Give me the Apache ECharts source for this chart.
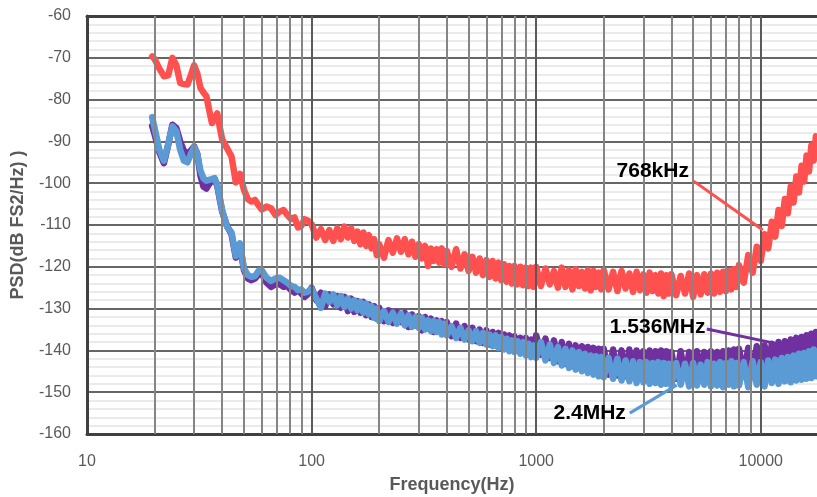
<!DOCTYPE html>
<html>
<head>
<meta charset="utf-8">
<script src="https://cdn.jsdelivr.net/npm/echarts@6/dist/echarts.min.js"></script>
<style>
  html, body { margin: 0; padding: 0; background: #fff; }
  #chart { width: 817px; height: 497px; }
</style>
</head>
<body>
<div id="chart"></div>
<script>
// frequency points (Hz), shared by the three traces
const freqHz = [
  19.5, 20, 21, 22, 23, 24, 25, 26, 27, 28, 29, 30, 31, 32, 33, 34, 35, 36, 37, 38, 39, 40,
  42, 44, 46, 48, 50, 52, 54, 56, 58, 60, 63, 66, 69, 72, 75, 78, 81, 84, 87, 90, 93, 96,
  100, 105, 110, 115, 120, 125, 130, 135, 140, 145, 150, 155, 160, 165, 170, 175, 180, 185, 190, 195,
  200, 210, 220, 230, 240, 250, 260, 270, 280, 290, 300, 310, 320, 330, 340, 350, 360, 370, 380, 390,
  400, 420, 440, 460, 480, 500, 520, 540, 560, 580, 600, 620, 640, 660, 680, 700, 720, 740, 760, 780,
  800, 825, 850, 875, 900, 925, 950, 975,
  1000, 1050, 1100, 1150, 1200, 1250, 1300, 1350, 1400, 1450, 1500, 1550, 1600, 1650, 1700, 1750, 1800, 1850, 1900, 1950,
  2000, 2100, 2200, 2300, 2400, 2500, 2600, 2700, 2800, 2900, 3000, 3100, 3200, 3300, 3400, 3500, 3600, 3700, 3800, 3900,
  4000, 4200, 4400, 4600, 4800, 5000, 5200, 5400, 5600, 5800, 6000, 6200, 6400, 6600, 6800, 7000, 7200, 7400, 7600, 7800,
  8000, 8400, 8800, 9200, 9600, 10000, 10400, 10800, 11200, 11600, 12000, 12400, 12800, 13200, 13600, 14000, 14400, 14800, 15200, 15600,
  16000, 16400, 16800, 17200, 17600, 17800
];

// PSD, dB FS2/Hz
const psd768k = [
  -69.7, -70.3, -72.6, -74.4, -74.2, -70.0, -71.8, -76.0, -76.3, -76.4,
  -74.2, -71.8, -73.8, -77.2, -78.3, -79.2, -82.5, -85.6, -84.6, -83.3,
  -86.6, -89.6, -91.6, -93.6, -99.8, -97.8, -101.6, -103.8, -104.4, -104.0,
  -105.3, -106.3, -105.6, -106.0, -107.6, -106.8, -106.4, -107.6, -108.6, -108.2,
  -110.6, -110.2, -108.6, -108.9,
  -109.8, -113.0, -111.0, -113.6, -111.2, -113.8, -110.8, -113.4, -110.4, -113.0,
  -110.8, -113.8, -111.6, -114.6, -111.8, -115.0, -112.4, -115.6, -113.4, -117.2,
  -114.6, -117.8, -113.6, -116.6, -113.2, -116.4, -113.4, -117.0, -114.0, -117.6,
  -114.6, -118.0, -115.0, -119.8, -115.6, -118.6, -115.8, -119.0, -115.6, -119.4,
  -116.2, -120.0, -115.8, -120.4, -117.0, -121.0, -117.6, -121.4, -118.0, -122.0,
  -118.4, -122.4, -118.6, -122.8, -119.0, -123.2, -119.4, -123.6, -119.8, -124.0,
  -119.8, -124.2, -120.0, -124.4, -120.2, -124.6, -120.2, -124.8,
  -120.0, -124.6, -120.4, -124.2, -121.0, -125.0, -120.2, -124.8, -120.8, -125.4,
  -120.6, -124.6, -121.2, -125.2, -120.8, -125.6, -121.0, -124.8, -121.4, -125.4,
  -120.8, -125.4, -121.2, -125.8, -121.0, -125.2, -121.6, -126.0, -121.2, -125.6,
  -121.8, -126.2, -121.4, -125.8, -122.0, -126.4, -121.6, -127.0, -122.0, -126.4,
  -121.8, -126.8, -122.2, -126.4, -121.6, -127.2, -122.0, -126.6, -121.8, -126.2,
  -121.6, -126.4, -121.4, -126.0, -121.2, -125.8, -121.0, -125.4, -120.6, -124.8,
  -119.6, -123.8, -117.2, -121.4, -115.2, -118.6, -112.2, -115.6, -109.2, -112.8,
  -106.4, -110.2, -103.8, -107.2, -100.8, -104.6, -98.4, -102.2, -95.8, -99.6,
  -93.4, -97.2, -91.0, -94.6, -88.8, -92.2
];

const psd1536k = [
  -86.3, -88.3, -92.6, -95.2, -90.8, -86.0, -86.8, -90.0, -92.2, -93.0,
  -92.2, -91.2, -93.0, -98.2, -100.8, -101.3, -100.2, -99.4, -99.0, -100.6,
  -103.8, -106.8, -110.2, -112.2, -117.8, -115.0, -120.8, -122.8, -123.2, -122.8,
  -121.8, -121.6, -123.8, -124.8, -124.2, -124.2, -124.8, -124.6, -125.6, -126.2,
  -125.6, -126.4, -127.2, -126.6,
  -125.0, -128.0, -126.2, -129.4, -126.6, -129.0, -127.0, -129.8, -127.2, -130.6,
  -127.6, -130.8, -128.2, -131.0, -128.4, -131.6, -129.0, -132.0, -129.4, -132.4,
  -129.8, -133.0, -130.4, -133.4, -130.8, -133.2, -131.0, -134.4, -131.4, -134.0,
  -131.8, -135.2, -132.0, -134.8, -132.4, -135.6, -132.8, -135.4, -133.0, -136.0,
  -133.2, -136.6, -133.6, -137.0, -134.2, -137.4, -134.6, -137.8, -135.0, -138.2,
  -135.2, -138.6, -135.6, -138.8, -135.8, -139.2, -136.2, -139.4, -136.4, -139.8,
  -136.6, -140.0, -137.0, -140.4, -137.0, -140.6, -137.4, -141.0,
  -136.4, -141.0, -137.2, -141.8, -137.6, -142.6, -138.0, -143.2, -138.4, -143.8,
  -138.8, -144.2, -139.0, -144.6, -139.2, -145.0, -139.4, -145.2, -139.6, -145.6,
  -139.6, -145.8, -139.8, -146.0, -140.0, -146.2, -139.8, -146.4, -140.0, -146.2,
  -140.2, -146.6, -140.0, -146.4, -140.2, -146.8, -140.0, -146.4, -140.2, -146.6,
  -140.4, -146.8, -140.2, -146.6, -140.4, -147.0, -140.2, -146.8, -140.4, -147.0,
  -140.2, -146.6, -140.4, -146.8, -140.2, -146.6, -140.0, -146.4, -139.8, -146.2,
  -139.6, -145.8, -139.4, -145.6, -139.0, -145.2, -138.8, -144.6, -138.4, -144.2,
  -138.0, -143.8, -137.8, -143.4, -137.4, -143.0, -137.0, -142.8, -136.8, -142.4,
  -136.4, -142.2, -136.0, -141.8, -135.6, -141.4
];

const psd2400k = [
  -84.2, -86.8, -92.0, -94.6, -90.6, -86.4, -87.6, -92.0, -94.6, -95.0,
  -93.0, -91.4, -93.2, -97.0, -98.8, -99.4, -99.2, -99.0, -98.8, -100.4,
  -103.4, -106.6, -110.4, -111.8, -117.4, -114.4, -120.4, -122.0, -122.4, -122.2,
  -121.0, -120.8, -122.6, -123.4, -122.8, -122.6, -123.2, -123.8, -124.6, -124.8,
  -125.6, -125.4, -126.2, -126.0,
  -125.2, -127.6, -129.8, -126.4, -128.4, -126.6, -129.2, -127.0, -129.6, -127.6,
  -130.0, -128.0, -130.4, -128.4, -131.0, -128.8, -131.4, -129.4, -132.2, -130.0,
  -133.0, -130.6, -133.2, -131.0, -133.6, -131.2, -134.0, -131.6, -134.4, -132.0,
  -134.6, -132.2, -135.0, -132.8, -135.4, -133.0, -135.6, -133.2, -136.2, -133.6,
  -136.4, -134.2, -137.0, -134.6, -137.4, -135.2, -137.8, -135.4, -138.2, -135.8,
  -138.6, -136.2, -139.0, -136.4, -139.4, -136.8, -139.8, -137.2, -140.2, -137.6,
  -140.4, -137.8, -140.8, -138.0, -141.2, -138.4, -141.6, -138.8,
  -141.8, -138.0, -142.4, -138.6, -143.0, -139.2, -143.6, -139.6, -144.2, -140.0,
  -144.6, -140.4, -145.0, -140.8, -145.4, -141.2, -145.8, -141.4, -146.2, -141.6,
  -146.4, -141.8, -146.8, -142.0, -147.2, -142.4, -147.4, -142.6, -147.8, -142.8,
  -147.6, -142.8, -148.0, -143.0, -147.8, -142.8, -148.2, -143.0, -148.0, -143.2,
  -148.4, -143.0, -148.2, -143.2, -148.6, -143.0, -148.4, -143.4, -148.2, -142.8,
  -148.6, -143.2, -148.4, -142.8, -148.8, -143.0, -148.2, -142.6, -148.6, -143.0,
  -148.4, -142.8, -148.8, -142.6, -148.2, -142.8, -148.6, -142.4, -147.8, -142.2,
  -148.0, -141.8, -147.4, -141.6, -147.6, -141.2, -147.2, -140.8, -147.0, -140.6,
  -146.8, -140.2, -146.6, -139.8, -146.2, -140.4
];

// vertical grid lines (Hz)
const gridMinor = [20, 30, 40, 50, 60, 70, 80, 90, 200, 300, 400, 500, 600, 700, 800, 900,
  2000, 3000, 4000, 5000, 6000, 7000, 8000, 9000];
const gridDecades = [100, 1000, 10000];

// callouts: text position, leader start, leader end ([Hz, dB])
const callouts = [
  { text: '768kHz', at: [3304, -97.2], from: [5030, -99.5], to: [10210, -111.2], color: '#FF5050', series: 1 },
  { text: '1.536MHz', at: [3475, -134.5], from: [5748, -134.9], to: [12790, -138.8], color: '#7030A0', series: 2 },
  { text: '2.4MHz', at: [1730, -155.0], from: [2610, -155.0], to: [4227, -148.3], color: '#5B9BD5', series: 3 }
];

if (psd768k.length !== freqHz.length || psd1536k.length !== freqHz.length || psd2400k.length !== freqHz.length) {
  console.error('length mismatch', freqHz.length, psd768k.length, psd1536k.length, psd2400k.length);
}

const pairs = arr => freqHz.map((f, i) => [f, arr[i]]);

const chart = echarts.init(document.getElementById('chart'), null, { renderer: 'canvas' });

const traceStyle = color => ({
  type: 'line',
  showSymbol: false,
  symbol: 'none',
  smooth: false,
  z: 3,
  lineStyle: { color: color, width: 6.5, join: 'round', cap: 'round' },
  itemStyle: { color: color },
  silent: true
});

const option = {
  animation: false,
  backgroundColor: '#fff',
  textStyle: { fontFamily: '"Liberation Sans", Arial, sans-serif' },
  grid: { left: 87, right: 0, top: 16, bottom: 63, containLabel: false, outerBoundsMode: 'none' },
  xAxis: [{
    type: 'log',
    logBase: 10,
    min: 10,
    max: 17800,
    name: 'Frequency(Hz)',
    nameLocation: 'middle',
    nameGap: 42,
    nameTextStyle: { fontSize: 18, fontWeight: 'bold', color: '#595959' },
    axisLine: { show: true, onZero: false, lineStyle: { color: '#404040', width: 3 } },
    axisTick: { show: false },
    axisLabel: {
      color: '#595959', fontSize: 16, margin: 20, showMaxLabel: false,
      formatter: v => ([10, 100, 1000, 10000].indexOf(Math.round(v)) >= 0 ? String(Math.round(v)) : '')
    },
    splitLine: { show: false }
  }, {
    type: 'log',
    logBase: 10,
    min: 10,
    max: 17800,
    position: 'top',
    axisLine: { show: true, lineStyle: { color: '#404040', width: 3 } },
    axisTick: { show: false },
    axisLabel: { show: false },
    splitLine: { show: false }
  }],
  yAxis: {
    type: 'value',
    min: -160,
    max: -60,
    interval: 10,
    name: 'PSD(dB FS2/Hz) )',
    nameLocation: 'middle',
    nameGap: 60,
    nameRotate: 90,
    nameTextStyle: { fontSize: 18, fontWeight: 'bold', color: '#595959' },
    axisLine: { show: true, onZero: false, lineStyle: { color: '#404040', width: 3 } },
    axisTick: { show: false },
    axisLabel: { color: '#595959', fontSize: 16, margin: 16 },
    splitLine: { show: true, lineStyle: { color: '#666666', width: 2 } },
    minorTick: { show: false, splitNumber: 5 },
    minorSplitLine: { show: true, lineStyle: { color: '#ebebeb', width: 2 } }
  },
  series: [
    {
      type: 'line',
      data: [],
      z: 1,
      silent: true,
      markLine: {
        silent: true,
        symbol: ['none', 'none'],
        label: { show: false },
        animation: false,
        data: gridMinor.map(f => ({ xAxis: f, lineStyle: { color: '#858585', width: 2, type: 'solid' } }))
          .concat(gridDecades.map(f => ({ xAxis: f, lineStyle: { color: '#5a5a5a', width: 2, type: 'solid' } })))
      }
    },
    Object.assign(traceStyle('#FF5050'), { name: '768kHz', data: pairs(psd768k) }),
    Object.assign(traceStyle('#7030A0'), { name: '1.536MHz', data: pairs(psd1536k) }),
    Object.assign(traceStyle('#5B9BD5'), { name: '2.4MHz', data: pairs(psd2400k) })
  ]
};

chart.setOption(option);

// callout labels with leader lines, placed through the chart's own scales
const graphics = [];
callouts.forEach(c => {
  const p = chart.convertToPixel({ seriesIndex: c.series }, c.at);
  const a = chart.convertToPixel({ seriesIndex: c.series }, c.from);
  const b = chart.convertToPixel({ seriesIndex: c.series }, c.to);
  graphics.push({
    type: 'line',
    z: 10,
    shape: { x1: a[0], y1: a[1], x2: b[0], y2: b[1] },
    style: { stroke: c.color, lineWidth: 3 }
  });
  graphics.push({
    type: 'text',
    z: 11,
    x: p[0],
    y: p[1],
    style: {
      text: c.text,
      fill: '#000',
      font: 'bold 21px "Liberation Sans", Arial, sans-serif',
      align: 'center',
      verticalAlign: 'middle'
    }
  });
});
chart.setOption({ graphic: graphics });
</script>
</body>
</html>
